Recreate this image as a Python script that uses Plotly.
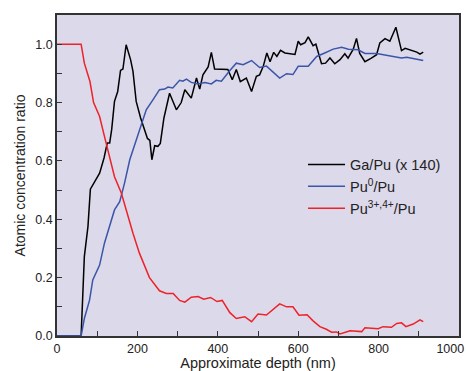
import plotly.graph_objects as go

ga_x = [0, 60, 68, 77, 83, 93, 106, 117, 125, 131, 136, 143, 151, 158, 164, 172, 183, 189, 197, 208,
        218, 225, 231, 236, 243, 251, 257, 266, 280, 297, 309, 318, 334, 347, 355, 363, 376, 384, 392,
        425, 436, 446, 456, 471, 484, 496, 504, 513, 522, 530, 539, 547, 556, 567, 592, 600, 606, 617,
        625, 637, 644, 658, 668, 679, 691, 704, 716, 724, 737, 745, 753, 766, 782, 795, 803, 816, 828,
        843, 857, 866, 895, 903, 911]
ga_y = [0, 0, 0.272, 0.375, 0.503, 0.529, 0.558, 0.61, 0.661, 0.661, 0.707, 0.804, 0.838, 0.91, 0.915,
        0.998, 0.947, 0.907, 0.804, 0.747, 0.701, 0.677, 0.67, 0.604, 0.652, 0.65, 0.66, 0.747, 0.832,
        0.775, 0.80, 0.844, 0.815, 0.884, 0.846, 0.895, 0.922, 0.972, 0.915, 0.913, 0.878, 0.913, 0.872,
        0.884, 0.838, 0.89, 0.895, 0.924, 0.97, 0.94, 0.972, 0.958, 0.979, 0.97, 0.965, 1.01, 0.998,
        1.005, 1.025, 0.995, 1.0, 0.933, 0.935, 0.953, 0.933, 0.947, 0.967, 0.952, 0.983, 1.02, 0.968,
        0.94, 0.952, 0.964, 1.004, 1.019, 1.01, 1.058, 0.978, 0.986, 0.973, 0.966, 0.973]

pu0_x = [0, 60, 68, 81, 89, 106, 118, 131, 143, 156, 168, 181, 193, 205, 222, 239, 255, 268, 276, 288,
         305, 313, 322, 334, 351, 368, 384, 396, 409, 430, 446, 463, 484, 504, 521, 554, 571, 587, 600,
         625, 646, 666, 687, 708, 725, 749, 766, 795, 811, 828, 845, 857, 870, 890, 911]
pu0_y = [0, 0, 0.06, 0.123, 0.192, 0.243, 0.318, 0.375, 0.432, 0.46, 0.524, 0.604, 0.655, 0.707, 0.775,
         0.81, 0.844, 0.846, 0.853, 0.85, 0.876, 0.873, 0.88, 0.869, 0.864, 0.869, 0.864, 0.876, 0.873,
         0.91, 0.935, 0.93, 0.944, 0.92, 0.925, 0.884, 0.899, 0.896, 0.924, 0.924, 0.958, 0.97, 0.983,
         0.989, 0.983, 0.981, 0.968, 0.968, 0.964, 0.96, 0.954, 0.953, 0.955, 0.95, 0.944]

pu34_x = [0, 60, 68, 82, 91, 106, 118, 131, 143, 160, 172, 189, 205, 218, 230, 255, 272, 289, 305, 318,
          334, 351, 365, 382, 398, 411, 430, 446, 467, 484, 500, 521, 537, 554, 571, 587, 602, 622, 637,
          654, 670, 683, 695, 704, 729, 758, 766, 799, 811, 832, 845, 857, 868, 886, 903, 911]
pu34_y = [1.0, 1.0, 0.935, 0.872, 0.80, 0.752, 0.684, 0.615, 0.546, 0.49, 0.432, 0.352, 0.284, 0.238,
          0.2, 0.155, 0.146, 0.146, 0.122, 0.116, 0.133, 0.135, 0.126, 0.132, 0.118, 0.122, 0.08, 0.06,
          0.066, 0.049, 0.075, 0.072, 0.091, 0.11, 0.10, 0.10, 0.071, 0.073, 0.052, 0.032, 0.023, 0.013,
          0.014, 0.007, 0.018, 0.015, 0.028, 0.025, 0.032, 0.03, 0.043, 0.045, 0.032, 0.041, 0.055, 0.049]

x_tickvals = [0, 200, 400, 600, 800, 1000]
x_ticktext = ["0", "200", "400", "600", "800", "1000" + "\u00a0" * 5]

names = ["Ga/Pu (x 140)", "Pu<sup>0</sup>/Pu", "Pu<sup>3+,4+</sup>/Pu"]
colors = ["#000000", "#3b55a8", "#ee2228"]

fig = go.Figure()
for xs, ys, nm, c in zip([ga_x, pu0_x, pu34_x], [ga_y, pu0_y, pu34_y], names, colors):
    fig.add_trace(go.Scatter(x=xs, y=ys, mode="lines", name=nm,
                             line=dict(color=c, width=1.5)))

axis_common = dict(showline=True, linecolor="#333333", linewidth=1.5, mirror=True,
                   ticks="inside", ticklen=5, tickcolor="#333333", showgrid=False,
                   zeroline=False, automargin=False, tickfont=dict(size=12.5, color="#222222"))

fig.update_xaxes(range=[0, 1000], tickmode="array", tickvals=x_tickvals, ticktext=x_ticktext,
                 ticklabeloverflow="allow",
                 minor=dict(ticks="inside", dtick=100, tick0=0, ticklen=5, tickcolor="#333333"),
                 title=dict(text="Approximate depth (nm)", font=dict(size=14.5, color="#222222"), standoff=3),
                 **axis_common)
fig.update_yaxes(range=[0, 1.1], dtick=0.2, tick0=0, tickformat=".1f",
                 minor=dict(ticks="inside", dtick=0.1, ticklen=5, tickcolor="#333333"),
                 title=dict(text="Atomic concentration ratio", font=dict(size=14, color="#222222"), standoff=6),
                 **axis_common)

fig.update_layout(
    width=466, height=371,
    margin=dict(l=57, r=7, t=15, b=35),
    paper_bgcolor="white", plot_bgcolor="#dcd9ea",
    font=dict(family="Liberation Sans, Arial, sans-serif", size=12, color="#222222"),
    showlegend=True,
    legend=dict(x=0.612, y=0.584, xanchor="left", yanchor="top", bgcolor="rgba(0,0,0,0)",
                font=dict(size=14.5, color="#222222"), tracegroupgap=0, itemwidth=37),
)

fig.write_html("out.html")
